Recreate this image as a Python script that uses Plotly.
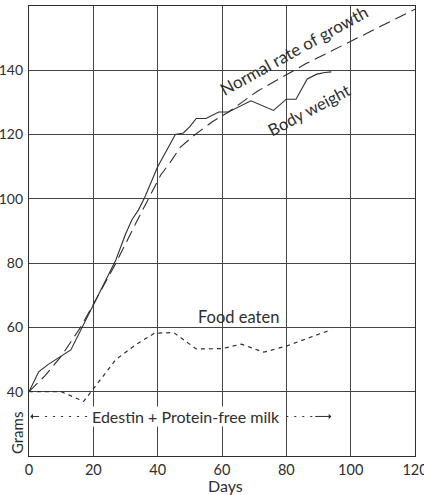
import plotly.graph_objects as go

# Body weight (solid)
bw_days = [0, 3, 6, 10, 13, 20, 27, 30, 32, 34, 36, 40, 45.5, 48, 50, 52, 55, 59, 62, 69, 76, 80, 83, 86.5, 89.5, 92, 94]
bw_grams = [40, 46.2, 48.5, 51, 53, 67, 81, 89, 93.5, 96.5, 100.5, 110, 120, 120.5, 122.5, 125, 125, 127, 127, 130.5, 127.5, 131, 131, 137.3, 138.8, 139.3, 139.5]

# Normal rate of growth (dashed)
nr_days = [0, 5, 10, 16, 21, 27, 33, 38, 41, 44, 47, 51, 57, 62, 71, 86, 96, 109, 120]
nr_grams = [40, 45, 51, 60, 69, 80, 92, 102, 107.5, 111.5, 116, 119.5, 124, 127, 133.5, 142, 147, 153.4, 159]

# Food eaten (short dashes)
fe_days = [0, 10, 17, 20, 27, 33, 39, 45, 52, 60, 66, 73, 80, 94]
fe_grams = [40, 40, 37, 41, 50, 54.5, 58.2, 58.4, 53.3, 53.4, 54.8, 52.3, 54.2, 59.3]

# Diet period marker
diet_start, diet_end = 0, 94
diet_level = 32.3
diet_text = "Edestin + Protein-free milk"

x_ticks = [0, 20, 40, 60, 80, 100, 120]
y_ticks = [40, 60, 80, 100, 120, 140]

ink = "#2e2e2e"
font = "Lato"

fig = go.Figure()
fig.add_trace(go.Scatter(x=nr_days, y=nr_grams, mode="lines",
                         line=dict(color=ink, width=1.1, dash="12px,6px")))
fig.add_trace(go.Scatter(x=bw_days, y=bw_grams, mode="lines",
                         line=dict(color=ink, width=1.1)))
fig.add_trace(go.Scatter(x=fe_days, y=fe_grams, mode="lines",
                         line=dict(color=ink, width=1.2, dash="4px,4px")))
# dotted parts of diet marker
fig.add_trace(go.Scatter(x=[diet_start + 2.5, 19.5], y=[diet_level, diet_level], mode="lines",
                         line=dict(color=ink, width=1.1, dash="2px,6px")))
fig.add_trace(go.Scatter(x=[77.5, 88.5], y=[diet_level, diet_level], mode="lines",
                         line=dict(color=ink, width=1.1, dash="2px,6px")))

annotations = [
    dict(x=diet_start + 0.4, y=diet_level, ax=diet_start + 3.5, ay=diet_level, axref="x", ayref="y",
         xref="x", yref="y", text="", showarrow=True, arrowhead=1, arrowsize=0.9,
         arrowwidth=1, arrowcolor=ink),
    dict(x=diet_end, y=diet_level, ax=diet_end - 5.5, ay=diet_level, axref="x", ayref="y",
         xref="x", yref="y", text="", showarrow=True, arrowhead=1, arrowsize=0.9,
         arrowwidth=1, arrowcolor=ink),
    dict(x=48.8, y=diet_level, xref="x", yref="y", text=diet_text, showarrow=False,
         font=dict(family=font, size=16, color=ink), bgcolor="white", borderpad=0),
    dict(x=82.3, y=146.2, xref="x", yref="y", text="Normal rate of growth", showarrow=False,
         xanchor="center", yanchor="middle",
         textangle=-29, font=dict(family=font, size=17, color=ink)),
    dict(x=87.2, y=127.6, xref="x", yref="y", text="Body weight", showarrow=False,
         xanchor="center", yanchor="middle",
         textangle=-28, font=dict(family=font, size=16.5, color=ink)),
    dict(x=65, y=63.3, xref="x", yref="y", text="Food eaten", showarrow=False,
         font=dict(family=font, size=16.5, color=ink)),
    dict(x=-0.031, y=0.051, xref="paper", yref="paper", text="Grams", showarrow=False,
         xanchor="center", yanchor="middle",
         textangle=-90, font=dict(family=font, size=15, color=ink)),
    dict(x=0.508, y=-0.066, xref="paper", yref="paper", text="Days", showarrow=False,
         xanchor="center", yanchor="middle",
         font=dict(family=font, size=16, color=ink)),
]

fig.update_layout(
    width=424, height=495,
    margin=dict(l=29, r=9, t=6, b=39),
    paper_bgcolor="white", plot_bgcolor="white",
    showlegend=False,
    font=dict(family=font, size=14, color=ink),
    annotations=annotations,
)
fig.update_xaxes(range=[0, 120], tickvals=x_ticks, ticktext=[str(v) for v in x_ticks],
                 showgrid=True, gridcolor="#444", gridwidth=1, zeroline=False,
                 showline=True, linecolor=ink, linewidth=1.3, mirror=True, ticks="",
                 automargin=False, ticklabelstandoff=0, ticklabeloverflow="allow",
                 tickfont=dict(family=font, size=14.5, color=ink))
fig.update_yaxes(range=[20, 160], tickvals=y_ticks, ticktext=[str(v) for v in y_ticks],
                 showgrid=True, gridcolor="#444", gridwidth=1, zeroline=False,
                 showline=True, linecolor=ink, linewidth=1.3, mirror=True, ticks="",
                 automargin=False, ticklabelstandoff=2, ticklabeloverflow="allow",
                 tickfont=dict(family=font, size=14, color=ink))

fig.write_html("out.html", config={"displayModeBar": False},
               post_script="document.body.style.margin='0';")
